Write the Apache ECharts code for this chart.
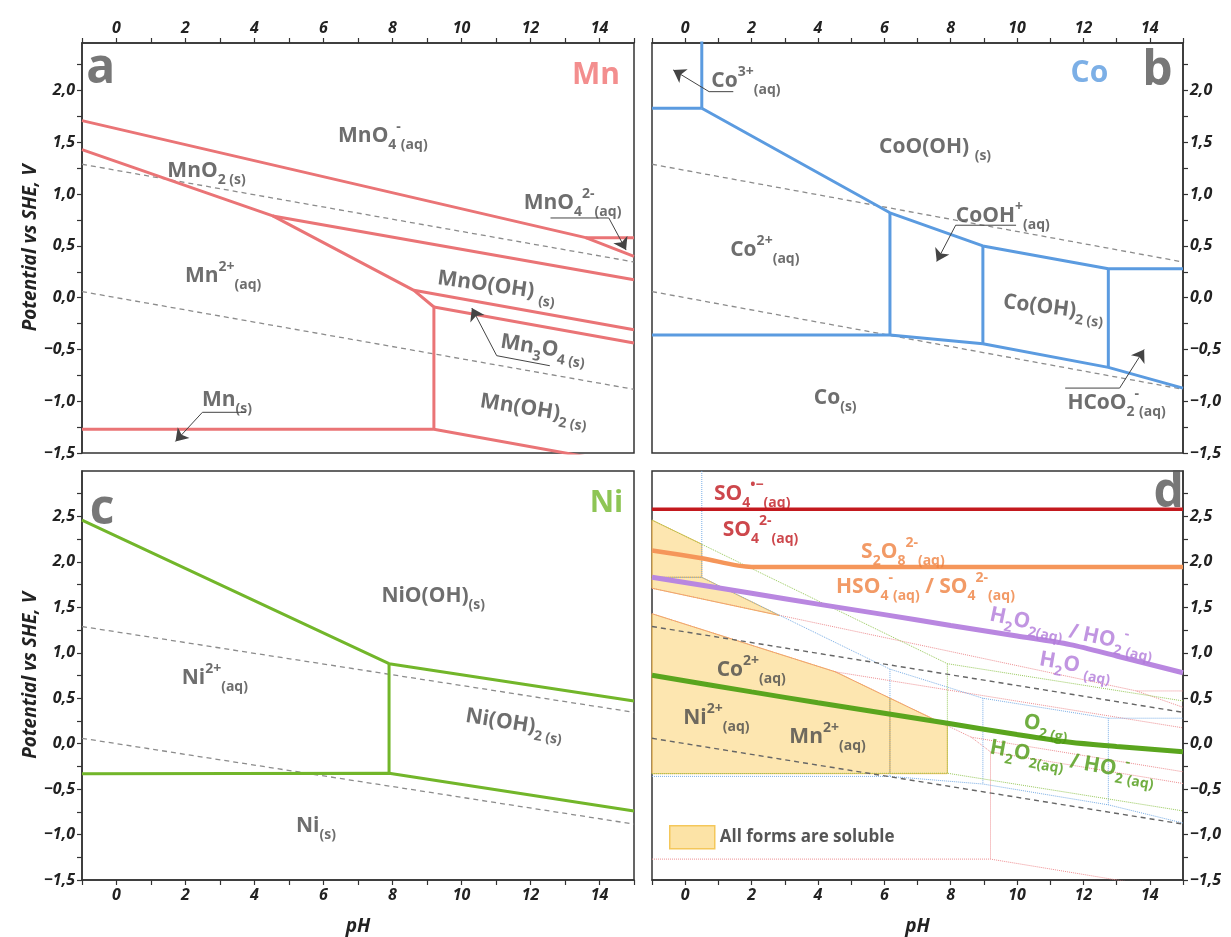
<!DOCTYPE html>
<html><head><meta charset="utf-8">
<script src="https://cdn.jsdelivr.net/npm/echarts@6/dist/echarts.min.js"></script>
<style>html,body{margin:0;padding:0;background:#fff}#c{width:1231px;height:937px}</style>
</head><body><div id="c"></div><script>
// ---------- tick labels ----------
const pHTickLabels = [0, 2, 4, 6, 8, 10, 12, 14];
const eTickLabelsTop = [-1.5, -1.0, -0.5, 0.0, 0.5, 1.0, 1.5, 2.0];
const eTickLabelsBottom = [-1.5, -1.0, -0.5, 0.0, 0.5, 1.0, 1.5, 2.0, 2.5];

// ---------- water stability lines ----------
const waterO2 = [[-1, 1.289], [15, 0.345]];
const waterH2 = [[-1, 0.059], [15, -0.885]];

// ---------- Mn boundaries ----------
const mnLines = [
  [[-1, 1.71], [13.6, 0.58], [15, 0.40]],
  [[13.6, 0.58], [15, 0.58]],
  [[-1, 1.43], [4.53, 0.79], [8.62, 0.071], [9.2, -0.09], [9.2, -1.27]],
  [[4.53, 0.79], [15, 0.174]],
  [[8.62, 0.071], [15, -0.309]],
  [[9.2, -0.09], [15, -0.438]],
  [[-1, -1.27], [9.2, -1.27], [15, -1.62]]
];
// ---------- Co boundaries ----------
const coLines = [
  [[0.5, 3.0], [0.5, 1.83]],
  [[-1, 1.83], [0.5, 1.83]],
  [[0.5, 1.83], [6.17, 0.82], [8.97, 0.50], [12.75, 0.28], [15, 0.28]],
  [[6.17, 0.82], [6.17, -0.36]],
  [[8.97, 0.50], [8.97, -0.444]],
  [[12.75, 0.28], [12.75, -0.673]],
  [[-1, -0.36], [6.17, -0.36], [8.97, -0.444], [12.75, -0.673], [15, -0.873]]
];
// ---------- Ni boundaries ----------
const niLines = [
  [[-1, 2.46], [7.9, 0.88], [15, 0.47]],
  [[7.9, 0.88], [7.9, -0.325]],
  [[-1, -0.33], [7.9, -0.325], [15, -0.74]]
];
// ---------- panel d ----------
const so4Line = [[-1, 2.58], [15, 2.58]];
const s2o8Line = [[-1, 2.125], [0.5, 2.04], [2, 1.945], [15, 1.945]];
const h2o2Line = [[-1, 1.83], [2, 1.655], [4, 1.535], [6, 1.42], [8, 1.30], [10, 1.185], [11.6, 1.09], [13, 0.965], [15, 0.78]];
const o2Line = [[-1, 0.753], [2, 0.57], [4, 0.45], [6, 0.335], [8, 0.22], [10, 0.10], [11.6, 0.015], [13, -0.03], [15, -0.09]];
const solubleRegions = [
  [[-1, 2.46], [0.5, 2.195], [0.5, 1.83], [-1, 1.83]],
  [[-1, 1.83], [0.5, 1.83], [2.84, 1.41], [-1, 1.71]],
  [[-1, 1.43], [4.53, 0.79], [6.17, 0.50], [6.17, -0.33], [-1, -0.33]],
  [[6.17, 0.50], [7.9, 0.197], [7.9, -0.33], [6.17, -0.33]]
];

// ---------- arrows (leader polylines, last point = arrow tip) ----------
const arrowsA = [
  [[12.58, 0.77], [14.27, 0.77], [14.77, 0.46]],
  [[12.56, -0.657], [11.02, -0.56], [10.3, -0.10]],
  [[3.75, -1.107], [2.49, -1.107], [1.71, -1.388]]
];
const arrowsB = [
  [[1.45, 1.99], [0.72, 1.99], [-0.36, 2.20]],
  [[9.97, 0.70], [8.15, 0.70], [7.58, 0.35]],
  [[11.45, -0.873], [13.09, -0.873], [13.83, -0.50]]
];

// ---------- labels: [text, pH, E, kind, color, rotate] ----------
const GRAY = '#4a4a4a';
const labelsA = [
  ['a', -0.46, 2.21, 'big', '#555'],
  ['Mn', 13.9, 2.15, 'elem', '#f07272'],
  ['MnO_{4}^{-}_{(aq)}', 7.72, 1.56],
  ['MnO_{2 (s)}', 2.61, 1.22],
  ['MnO_{4}^{2-}_{(aq)}', 13.22, 0.91],
  ['Mn^{2+}_{(aq)}', 3.09, 0.21],
  ['MnO(OH) _{(s)}', 11.02, 0.11, 'chem', GRAY, -8],
  ['Mn_{3}O_{4 (s)}', 12.37, -0.49, 'chem', GRAY, -9],
  ['Mn(OH)_{2 (s)}', 12.1, -1.08, 'chem', GRAY, -9],
  ['Mn_{(s)}', 3.2, -0.985]
];
const labelsB = [
  ['b', 14.23, 2.19, 'big', '#555'],
  ['Co', 12.18, 2.17, 'elem', '#5b9be0'],
  ['Co^{3+}_{(aq)}', 1.83, 2.09],
  ['CoO(OH) _{(s)}', 7.53, 1.46],
  ['CoOH^{+}_{(aq)}', 9.57, 0.79],
  ['Co^{2+}_{(aq)}', 2.4, 0.46],
  ['Co(OH)_{2 (s)}', 11.1, -0.10, 'chem', GRAY, -7],
  ['Co_{(s)}', 4.52, -0.97],
  ['HCoO_{2}^{-}_{(aq)}', 13.0, -1.02]
];
const labelsC = [
  ['c', -0.42, 2.57, 'big', '#555'],
  ['Ni', 14.2, 2.64, 'elem', '#72b62a'],
  ['NiO(OH)_{(s)}', 9.18, 1.63],
  ['Ni^{2+}_{(aq)}', 2.85, 0.72],
  ['Ni(OH)_{2 (s)}', 11.53, 0.22, 'chem', GRAY, -9],
  ['Ni_{(s)}', 5.78, -0.91]
];
const labelsD = [
  ['d', 14.57, 2.75, 'big', '#555'],
  ['SO_{4}^{•−}_{(aq)}', 2.02, 2.75, 'chem', '#c0191f'],
  ['SO_{4}^{2-}_{(aq)}', 2.27, 2.35, 'chem', '#c0191f'],
  ['S_{2}O_{8}^{2-}_{(aq)}', 6.56, 2.11, 'chem', '#ef8140'],
  ['HSO_{4}^{-}_{(aq)} / SO_{4}^{2-}_{(aq)}', 7.24, 1.72, 'chem', '#ef8140'],
  ['H_{2}O_{2(aq)} / HO_{2}^{-}_{(aq)}', 11.65, 1.23, 'chem', '#b27ad9', -12],
  ['H_{2}O _{(aq)}', 11.76, 0.86, 'chem', '#b27ad9', -10],
  ['Co^{2+}_{(aq)}', 1.99, 0.81],
  ['Ni^{2+}_{(aq)}', 0.94, 0.28],
  ['Mn^{2+}_{(aq)}', 4.29, 0.075],
  ['O_{2 (g)}', 10.88, 0.20, 'chem', '#4c9a12', -10],
  ['H_{2}O_{2(aq)} / HO_{2}^{-}_{(aq)}', 11.67, -0.20, 'chem', '#4c9a12', -10]
];

// ---------- styling ----------
const FONT = "'Open Sans', 'Noto Sans', sans-serif";
const AX = '#333';
const C_MN = '#ea7476', C_CO = '#5b9be0', C_NI = '#72b62a';

function fmtE(v) { return v.toFixed(1).replace('.', ',').replace('-', '\u2212'); }
function has(list, v) { return list.some(t => Math.abs(t - v) < 1e-6); }

function toRich(s) {
  let out = '', last = 0, m; const re = /([_^])\{([^}]*)\}/g;
  while ((m = re.exec(s))) {
    if (m.index > last) out += '{n|' + s.slice(last, m.index) + '}';
    out += '{' + (m[1] === '_' ? 's' : 'p') + '|' + m[2] + '}';
    last = re.lastIndex;
  }
  if (last < s.length) out += '{n|' + s.slice(last) + '}';
  return out;
}
function makeRich(fs, color) {
  const sf = Math.round(fs * 0.68);
  const base = { color, fontWeight: 'bold', fontFamily: FONT };
  return {
    n: Object.assign({ fontSize: fs, lineHeight: Math.round(fs * 1.5) }, base),
    s: Object.assign({ fontSize: sf, lineHeight: sf + 1, verticalAlign: 'bottom' }, base),
    p: Object.assign({ fontSize: sf, lineHeight: sf + 1, verticalAlign: 'top' }, base)
  };
}
function labelSeries(gi, item) {
  const [text, x, y, kind = 'chem', color = GRAY, rot = 0] = item;
  const fs = kind === 'big' ? 48 : kind === 'elem' ? 30 : 21;
  return {
    type: 'scatter', xAxisIndex: gi, yAxisIndex: gi, z: 20, silent: true,
    symbolSize: 1, itemStyle: { color: 'rgba(0,0,0,0)' },
    data: [[x, y]],
    label: { show: true, position: 'inside', rotate: rot, formatter: () => toRich(text), rich: makeRich(fs, color) }
  };
}
function lineSeries(gi, pts, color, width, type, z, smooth) {
  return {
    type: 'line', xAxisIndex: gi, yAxisIndex: gi, data: pts, symbol: 'none', silent: true,
    smooth: smooth || false, lineStyle: { color, width, type: type || 'solid' }, z: z || 5
  };
}
function arrowSeries(gi, pts) {
  const out = [lineSeries(gi, pts.slice(0, -1), '#444', 1, 'solid', 15)];
  out.push({
    type: 'lines', coordinateSystem: 'cartesian2d', xAxisIndex: gi, yAxisIndex: gi, z: 15, silent: true,
    symbol: ['none', 'arrow'], symbolSize: [0, 12],
    lineStyle: { color: '#444', width: 1, opacity: 1 },
    data: [{ coords: [pts[pts.length - 2], pts[pts.length - 1]] }]
  });
  return out;
}

const grids = [
  { left: 82, top: 43, width: 552, height: 410 },
  { left: 652, top: 43, width: 531, height: 410 },
  { left: 82, top: 471, width: 552, height: 409 },
  { left: 652, top: 471, width: 531, height: 409 }
].map(g => Object.assign({ show: true, borderColor: AX, borderWidth: 1.5, backgroundColor: 'transparent' }, g));

const tickLabelStyle = { fontFamily: FONT, fontStyle: 'italic', fontWeight: 'bold', fontSize: 16, color: '#222' };
const nameStyle = { fontFamily: FONT, fontStyle: 'italic', fontWeight: 'bold', fontSize: 19, color: '#222' };

function xAx(gi, pos, withName) {
  const a = {
    gridIndex: gi, type: 'value', min: -1, max: 15, interval: 1, position: pos,
    axisLine: { show: true, onZero: false, lineStyle: { color: AX, width: 1.5 } },
    axisTick: { show: true, length: 5, lineStyle: { color: AX, width: 1.2 } },
    axisLabel: Object.assign({ margin: 7, formatter: v => has(pHTickLabels, v) ? String(v) : '' }, tickLabelStyle),
    splitLine: { show: false }
  };
  if (withName) Object.assign(a, { name: 'pH', nameLocation: 'middle', nameGap: 37, nameTextStyle: nameStyle });
  return a;
}
function yAx(gi, pos, max, labels, withName) {
  const a = {
    gridIndex: gi, type: 'value', min: -1.5, max: max, interval: 0.25, position: pos,
    axisLine: { show: true, onZero: false, lineStyle: { color: AX, width: 1.5 } },
    axisTick: { show: true, length: 5, lineStyle: { color: AX, width: 1.2 } },
    axisLabel: Object.assign({ margin: 7, showMaxLabel: false, formatter: v => has(labels, v) ? fmtE(v) : '' }, tickLabelStyle),
    splitLine: { show: false }
  };
  if (withName) Object.assign(a, { name: 'Potential vs SHE, V', nameLocation: 'middle', nameGap: 42, nameTextStyle: nameStyle });
  return a;
}

const series = [];
[0, 1, 2].forEach(gi => {
  series.push(lineSeries(gi, waterO2, '#8c8c8c', 1.3, [5, 4], 3));
  series.push(lineSeries(gi, waterH2, '#8c8c8c', 1.3, [5, 4], 3));
});
mnLines.forEach(l => series.push(lineSeries(0, l, C_MN, 3)));
coLines.forEach(l => series.push(lineSeries(1, l, C_CO, 3)));
niLines.forEach(l => series.push(lineSeries(2, l, C_NI, 3)));
arrowsA.forEach(a => series.push(...arrowSeries(0, a)));
arrowsB.forEach(a => series.push(...arrowSeries(1, a)));

series.push({
  type: 'custom', name: 'All forms are soluble', xAxisIndex: 3, yAxisIndex: 3, z: 1, silent: true,
  itemStyle: { color: 'rgba(252,222,150,0.75)', borderColor: '#f4c75a', borderWidth: 1.5 },
  data: solubleRegions.map((_, i) => [i, 0]),
  renderItem: (params, api) => ({
    type: 'polygon',
    shape: { points: solubleRegions[params.dataIndex].map(p => api.coord(p)) },
    style: { fill: 'rgba(252,222,150,0.75)', stroke: '#f2b74e', lineWidth: 1 }
  })
});
mnLines.forEach(l => series.push(lineSeries(3, l, '#ee8f92', 1, 'dotted', 2)));
coLines.forEach(l => series.push(lineSeries(3, l, '#7aaee6', 1, 'dotted', 2)));
niLines.forEach(l => series.push(lineSeries(3, l, '#98c95a', 1, 'dotted', 2)));
series.push(lineSeries(3, waterO2, '#666', 1.4, [5, 4], 3));
series.push(lineSeries(3, waterH2, '#666', 1.4, [5, 4], 3));
series.push(lineSeries(3, so4Line, '#c3191e', 3.5, 'solid', 6));
series.push(lineSeries(3, s2o8Line, '#f5965a', 4.5, 'solid', 6, 0.3));
series.push(lineSeries(3, h2o2Line, '#b987e0', 5, 'solid', 6, 0.3));
series.push(lineSeries(3, o2Line, '#5aa51e', 5, 'solid', 6, 0.3));

labelsA.forEach(l => series.push(labelSeries(0, l)));
labelsB.forEach(l => series.push(labelSeries(1, l)));
labelsC.forEach(l => series.push(labelSeries(2, l)));
labelsD.forEach(l => series.push(labelSeries(3, l)));

const chart = echarts.init(document.getElementById('c'), null, { renderer: 'canvas' });
chart.setOption({
  animation: false,
  backgroundColor: '#fff',
  grid: grids,
  xAxis: [xAx(0, 'top', false), xAx(1, 'top', false), xAx(2, 'bottom', true), xAx(3, 'bottom', true)],
  yAxis: [yAx(0, 'left', 2.46, eTickLabelsTop, true), yAx(1, 'right', 2.46, eTickLabelsTop, false),
          yAx(2, 'left', 3.0, eTickLabelsBottom, true), yAx(3, 'right', 3.0, eTickLabelsBottom, false)],
  legend: {
    data: [{ name: 'All forms are soluble', icon: 'rect', itemStyle: { color: 'rgba(252,222,150,0.85)', borderColor: '#f4c75a', borderWidth: 1.5 } }],
    left: 664, top: 820, itemWidth: 45, itemHeight: 23, selectedMode: false,
    textStyle: { fontFamily: FONT, fontWeight: 'bold', fontSize: 17, color: '#555' }
  },
  series: series
});
</script></body></html>
